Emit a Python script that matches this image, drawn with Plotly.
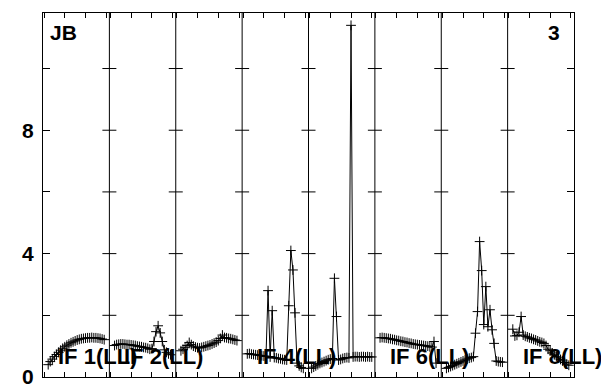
import plotly.graph_objects as go

# ---- data (channels and amplitudes per IF panel) ----
panel_names = ["IF 1(LL)", "IF 2(LL)", "IF 3(LL)", "IF 4(LL)", "IF 5(LL)", "IF 6(LL)", "IF 7(LL)", "IF 8(LL)"]
shown_labels = ["IF 1(LL)", "IF 2(LL)", "IF 4(LL)", "IF 6(LL)", "IF 8(LL)"]
n_chan = 32

ch_if1 = list(range(3, 31))
amp_if1 = [0.40, 0.50, 0.58, 0.66, 0.73, 0.80, 0.87, 0.93, 0.98, 1.03, 1.07, 1.11, 1.14, 1.17,
           1.20, 1.22, 1.24, 1.25, 1.26, 1.27, 1.27, 1.28, 1.27, 1.27, 1.26, 1.25, 1.23, 1.21]

ch_if2 = list(range(3, 31))
amp_if2 = [1.02, 1.05, 1.06, 1.07, 1.07, 1.06, 1.05, 1.05, 1.04, 1.03, 1.02, 1.00, 0.99, 0.98,
           0.96, 0.95, 0.93, 0.90, 0.92, 1.15, 1.47, 1.66, 1.43, 1.15, 0.88, 0.80, 0.75, 0.72]

ch_if3 = list(range(3, 31))
amp_if3 = [0.85, 0.90, 0.95, 1.02, 1.12, 1.05, 1.00, 0.97, 0.95, 0.94, 0.96, 0.98, 1.00, 1.02,
           1.04, 1.07, 1.10, 1.13, 1.18, 1.25, 1.36, 1.28, 1.27, 1.25, 1.24, 1.22, 1.20, 1.18]

ch_if4 = list(range(3, 31))
amp_if4 = [0.75, 0.76, 0.74, 0.73, 0.72, 0.71, 0.70, 0.69, 0.68, 0.67, 2.80, 0.65, 2.15, 0.63,
           0.62, 0.60, 0.59, 0.57, 0.56, 0.55, 2.31, 4.10, 3.47, 2.08, 0.45, 0.36, 0.31, 0.28]

ch_if5 = list(range(2, 32))
amp_if5 = [0.28, 0.32, 0.36, 0.40, 0.44, 0.47, 0.50, 0.53, 0.56, 0.58, 0.60, 3.20, 1.96, 0.55,
           0.57, 0.60, 0.62, 0.63, 0.62, 11.40, 0.65, 0.66, 0.66, 0.65, 0.66, 0.66, 0.65, 0.66,
           0.65, 0.65]

ch_if6 = list(range(3, 31))
amp_if6 = [1.27, 1.28, 1.27, 1.26, 1.25, 1.24, 1.22, 1.21, 1.19, 1.18, 1.16, 1.15, 1.13, 1.12,
           1.10, 1.09, 1.07, 1.06, 1.05, 1.04, 1.03, 1.02, 1.01, 1.00, 0.98, 0.97, 1.15, 0.45]

ch_if7 = list(range(3, 31))
amp_if7 = [0.28, 0.31, 0.34, 0.37, 0.40, 0.43, 0.46, 0.49, 0.52, 0.55, 0.58, 0.61, 0.63, 0.66,
           1.42, 2.12, 4.39, 3.45, 1.70, 2.93, 1.63, 2.18, 1.53, 1.09, 0.52, 0.50, 0.49, 0.48]

ch_if8 = list(range(3, 31))
amp_if8 = [1.55, 1.33, 1.35, 1.45, 1.96, 1.36, 1.32, 1.30, 1.27, 1.25, 1.22, 1.20, 1.17, 1.14,
           1.12, 1.09, 1.02, 0.90, 0.85, 0.78, 0.72, 0.67, 0.62, 0.57, 0.52, 0.47, 0.42, 0.38]

y_tickvals = [0, 2, 4, 6, 8, 10]
y_ticktext = ["0", "", "4", "", "8", ""]
chan_ticks = [1, 11, 21, 31]
source_label = "JB"
page_label = "3"

channels = [ch_if1, ch_if2, ch_if3, ch_if4, ch_if5, ch_if6, ch_if7, ch_if8]
amps = [amp_if1, amp_if2, amp_if3, amp_if4, amp_if5, amp_if6, amp_if7, amp_if8]

# ---- build ----
xs, ys = [], []
for i, (chs, vals) in enumerate(zip(channels, amps)):
    xs += [n_chan * i + c for c in chs] + [None]
    ys += list(vals) + [None]

FONT = "Liberation Sans, Arial, Helvetica, sans-serif"
fig = go.Figure()
fig.add_trace(go.Scatter(
    x=xs, y=ys, mode="lines+markers", connectgaps=False,
    line=dict(color="black", width=1),
    marker=dict(symbol="cross-thin", size=7, color="black", line=dict(width=1, color="black")),
    hoverinfo="skip", showlegend=False))

n_pan = len(panel_names)
shapes = []
for i in range(1, n_pan):
    sep = n_chan * i + 0.5
    shapes.append(dict(type="line", xref="x", yref="paper", x0=sep, x1=sep, y0=0, y1=1,
                       line=dict(color="black", width=1)))
    for v in y_tickvals[1:]:
        shapes.append(dict(type="line", xref="x", yref="y", xsizemode="pixel", xanchor=sep,
                           x0=-7, x1=7, y0=v, y1=v, line=dict(color="black", width=1)))

annotations = []
for i, name in enumerate(panel_names):
    if name in shown_labels:
        annotations.append(dict(x=n_chan * i + 0.5, y=0, xref="x", yref="y", text=name,
                                showarrow=False, xanchor="left", yanchor="bottom",
                                xshift=13, yshift=6,
                                font=dict(family=FONT, size=22, color="black", weight="bold")))
annotations.append(dict(x=0, y=1, xref="paper", yref="paper", text=source_label, showarrow=False,
                        xanchor="left", yanchor="top", xshift=5, yshift=-6,
                        font=dict(family=FONT, size=21, color="black", weight="bold")))
annotations.append(dict(x=1, y=1, xref="paper", yref="paper", text=page_label, showarrow=False,
                        xanchor="right", yanchor="top", xshift=-12, yshift=-6,
                        font=dict(family=FONT, size=21, color="black", weight="bold")))

# page has an 8px body margin: figure spans page (8..609, 8..389)
fig.update_layout(
    width=601, height=381,
    margin=dict(l=35, r=35, t=5, b=12, autoexpand=False),
    paper_bgcolor="white", plot_bgcolor="white",
    shapes=shapes, annotations=annotations,
    xaxis=dict(range=[0.5, n_chan * n_pan + 0.5], showgrid=False, zeroline=False,
               automargin=False, tickmode="array",
               tickvals=[n_chan * i + c for i in range(n_pan) for c in chan_ticks],
               ticks="inside", ticklen=5, tickcolor="black", showticklabels=False,
               showline=True, linecolor="black", linewidth=1, mirror="ticks"),
    yaxis=dict(range=[0, 11.8], showgrid=False, zeroline=False, automargin=False,
               tickmode="array", tickvals=y_tickvals, ticktext=y_ticktext,
               ticks="inside", ticklen=7, tickcolor="black",
               showline=True, linecolor="black", linewidth=1, mirror="ticks",
               tickfont=dict(family=FONT, size=21, color="black", weight="bold"),
               ticklabelstandoff=4),
)

fig.write_html("out.html")
